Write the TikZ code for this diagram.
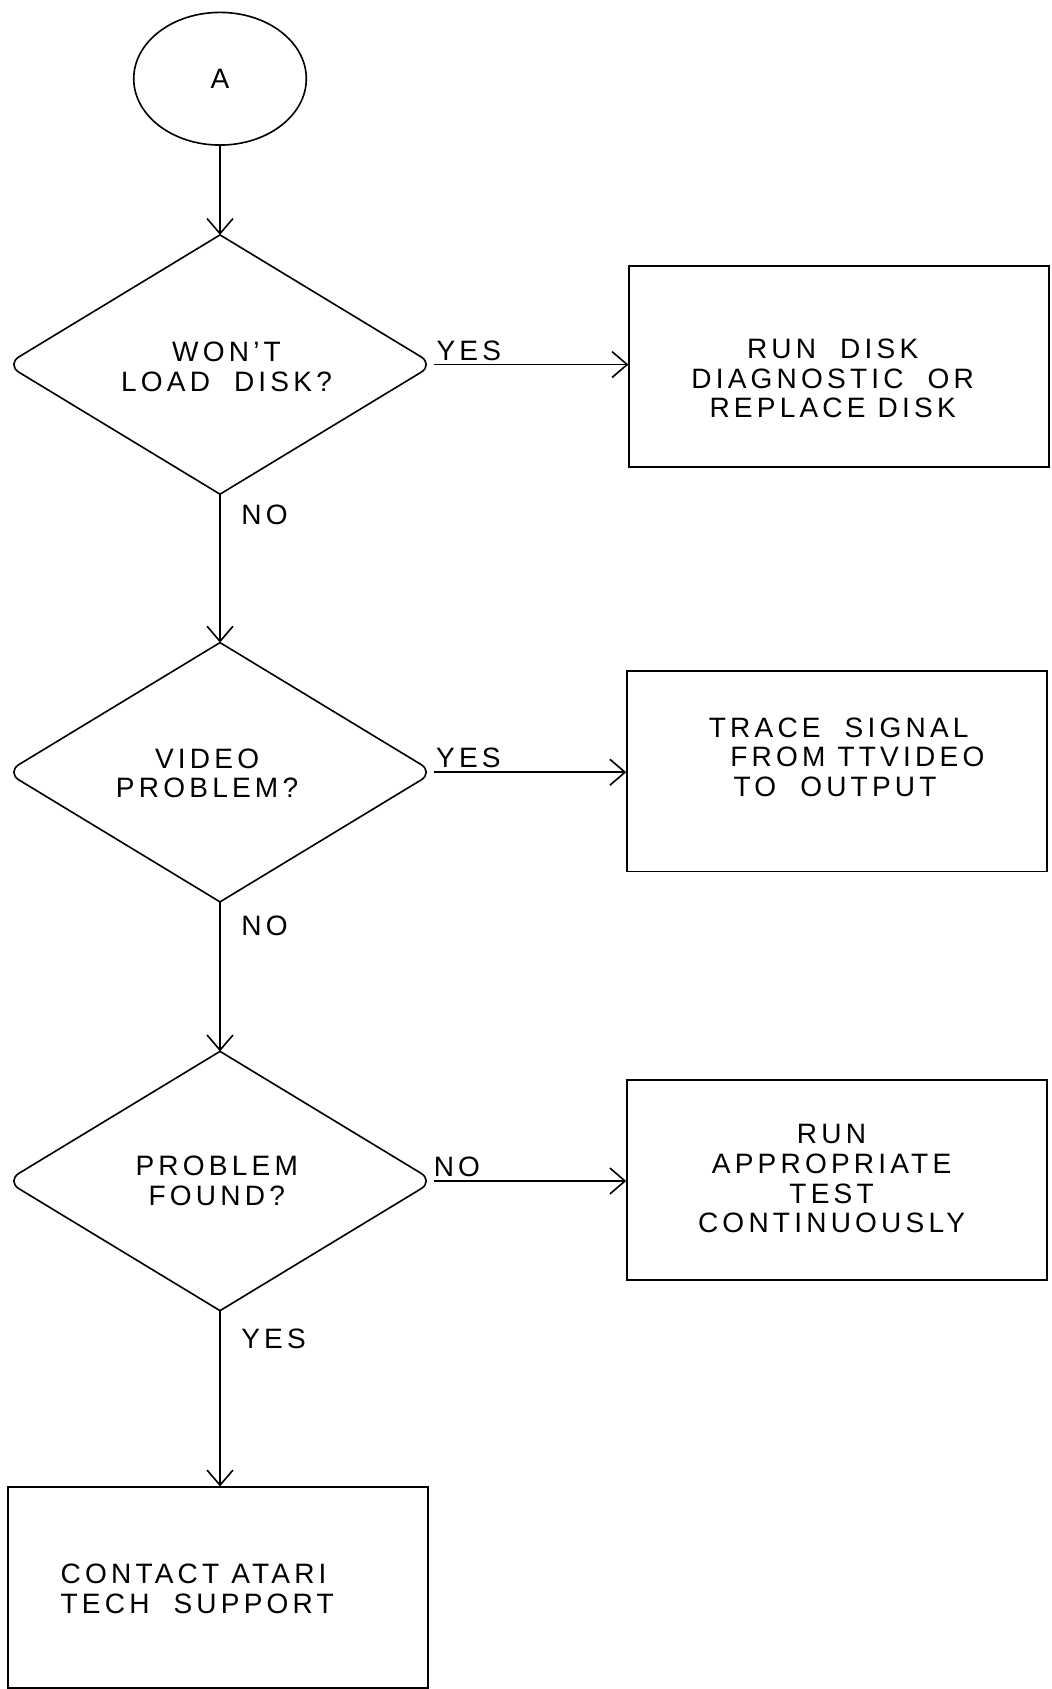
\documentclass[tikz,border=0pt]{standalone}
\usepackage{fontspec}
\setmainfont[LetterSpace=15]{Liberation Sans}
\usetikzlibrary{shapes.geometric,arrows.meta}

\begin{document}
\begin{tikzpicture}[x=1pt,y=-1pt,
    every node/.style={font=\fontsize{26}{27.5}\selectfont},
    line/.style={line width=1.5pt},
    flow/.style={line, -{Straight Barb[length=14pt,width=24pt,line width=1.5pt]}},
    dia/.style={shape=diamond, aspect=1.6, minimum width=396pt, minimum height=240pt, inner sep=0pt, align=center},
    blk/.style={draw, line width=1.7pt, minimum width=389pt, minimum height=186pt, inner sep=0pt},
    tag/.style={inner sep=3pt}]
            \useasboundingbox (0,0) rectangle (975,1566);
            % start and questions
            \node[draw, line, ellipse, minimum width=160pt, minimum height=123pt] (a) at (204,73) {A};
            \node[dia] (won) at (204,338) {};
            \node[dia] (vid) at (204,716) {};
            \node[dia] (fnd) at (204,1095) {};
            \node[align=center] (won-txt) at (210,340) {WON'T\\LOAD\ \ DISK?};
            \node[align=center] (vid-txt) at (192,717) {VIDEO\\PROBLEM?};
            \node[align=center] (fnd-txt) at (201,1095) {PROBLEM\\FOUND?};
            \draw[line, rounded corners=14pt] (won.north) -- (won.east) -- (won.south);
            \draw[line, rounded corners=14pt] (won.south) -- (won.west) -- (won.north);
            \draw[line, rounded corners=14pt] (vid.north) -- (vid.east) -- (vid.south);
            \draw[line, rounded corners=14pt] (vid.south) -- (vid.west) -- (vid.north);
            \draw[line, rounded corners=14pt] (fnd.north) -- (fnd.east) -- (fnd.south);
            \draw[line, rounded corners=14pt] (fnd.south) -- (fnd.west) -- (fnd.north);
            % actions
            \node[blk] (rundisk) at (778,340) {};
            \node[blk] (trace) at (776,715) {};
            \node[blk] (runtest) at (776,1094) {};
            \node[blk] (atari) at (202,1472) {};
            \node[align=center] (rundisk-txt) at (772,351) {RUN\ \ DISK\\DIAGNOSTIC\ \ OR\\REPLACE DISK};
            \node[align=left, anchor=west, inner sep=0pt] (trace-txt) at (657,702) {TRACE\ \ SIGNAL\\\hspace*{20pt}FROM TTVIDEO\\\hspace*{23pt}TO\ \ OUTPUT};
            \node[align=center] (runtest-txt) at (771,1093) {RUN\\APPROPRIATE\\TEST\\CONTINUOUSLY};
            \node[align=left, anchor=west, inner sep=0pt] (atari-txt) at (56,1473) {CONTACT ATARI\\TECH\ \ SUPPORT};
            % connectors
            \draw[flow] (a.south) -- (won.north);
            \draw[flow] (won.east) -- node[tag, pos=0.18, above] {YES} (won.east -| rundisk.west);
            \draw[flow] (won.south) -- node[tag, pos=0.14, right, xshift=16pt] {NO} (vid.north);
            \draw[flow] (vid.east) -- node[tag, pos=0.18, above] {YES} (vid.east -| trace.west);
            \draw[flow] (vid.south) -- node[tag, pos=0.16, right, xshift=16pt] {NO} (fnd.north);
            \draw[flow] (fnd.east) -- node[tag, pos=0.12, above] {NO} (fnd.east -| runtest.west);
            \draw[flow] (fnd.south) -- node[tag, pos=0.16, right, xshift=16pt] {YES} (fnd.south |- atari.north);
        \end{tikzpicture}
\end{document}
